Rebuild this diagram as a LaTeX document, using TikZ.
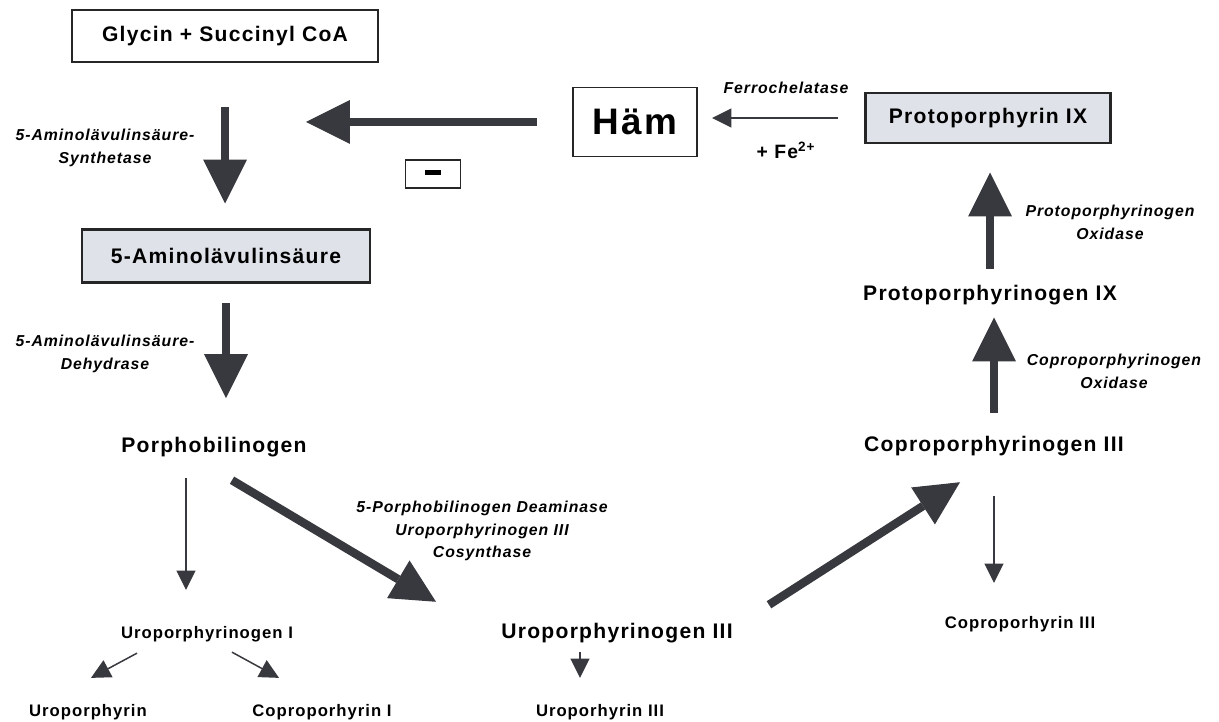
\documentclass[tikz,border=0pt]{standalone}
\usepackage{fontspec}
\setmainfont{Liberation Sans}[LetterSpace=6]
\usepackage{xcolor}
\usetikzlibrary{arrows.meta, positioning}

\definecolor{arrowgray}{RGB}{55,57,62}
\definecolor{boxgray}{RGB}{223,226,232}

\begin{document}
\begin{tikzpicture}[x=0.02cm, y=-0.02cm,
	compound/.style={inner sep=0pt, font=\bfseries\fontsize{12}{14}\selectfont},
	smallcompound/.style={inner sep=0pt, font=\bfseries\fontsize{9.5}{11}\selectfont},
	enzyme/.style={inner sep=0pt, align=center, font=\bfseries\itshape\fontsize{9}{13}\selectfont},
	framebox/.style={compound, draw=black!85, line width=1.1pt, fill=white},
	grayframe/.style={framebox, fill=boxgray, line width=1.6pt},
	bigarrow/.style={draw=arrowgray, line width=4.8pt, -{Triangle[length=25pt, width=25pt, line width=0pt]}},
	thinarrow/.style={draw=arrowgray, line width=0.85pt, -{Triangle[length=11pt, width=11pt, line width=0pt]}}]
	\useasboundingbox (0,0) rectangle (1219,722);
	% compounds, left column
	\node[framebox, minimum width=6.12cm, minimum height=1.04cm] (glycin) at (225,36) {Glycin + Succinyl CoA};
	\node[grayframe, minimum width=5.76cm, minimum height=1.06cm] (ala) at (226,256) {5-Aminolävulinsäure};
	\node[compound] (pbg) at (214,447) {Porphobilinogen};
	\node[smallcompound] (uro1) at (207,634) {Uroporphyrinogen I};
	\node[smallcompound] (uroP) at (88,712) {Uroporphyrin};
	\node[smallcompound] (copro1) at (322,712) {Coproporhyrin I};
	% compounds, middle and right
	\node[compound] (uro3) at (617,633) {Uroporphyrinogen III};
	\node[smallcompound] (uro3p) at (600,712) {Uroporhyrin III};
	\node[compound] (coprogen) at (994,446) {Coproporphyrinogen III};
	\node[smallcompound] (copro3) at (1020,624) {Coproporhyrin III};
	\node[compound] (protogen) at (990,295) {Protoporphyrinogen IX};
	\node[grayframe, minimum width=4.9cm, minimum height=1.0cm] (proto) at (988,118) {Protoporphyrin IX};
	\node[framebox, minimum width=2.48cm, minimum height=1.38cm, font=\bfseries\fontsize{21}{24}\selectfont] (haem) at (635,122) {Häm};
	\node[draw=black!85, line width=1.1pt, minimum width=1.1cm, minimum height=0.56cm, inner sep=0pt] (minus) at (433,174) {\rule[0.25ex]{0.32cm}{0.1cm}};
	\coordinate (block) at (306,122);
	% enzymes
	\node[enzyme] (alas) at (105,148) {5-Aminolävulinsäure-\\Synthetase};
	\node[enzyme] (alad) at (105,354) {5-Aminolävulinsäure-\\Dehydrase};
	\node[enzyme] (pbgd) at (482,531) {5-Porphobilinogen Deaminase\\Uroporphyrinogen III\\Cosynthase};
	\node[enzyme] (cpox) at (1114,371) {Coproporphyrinogen\\Oxidase};
	\node[enzyme] (ppox) at (1110,222) {Protoporphyrinogen\\Oxidase};
	\node[enzyme] (ferro) at (786,88) {Ferrochelatase};
	\node[inner sep=0pt, font=\bfseries\fontsize{11}{13}\selectfont] (fe) at (786,150) {+ Fe\textsuperscript{2+}};
	% main pathway
	\draw[bigarrow, shorten <=25pt, shorten >=14pt] (glycin.south) -- (glycin.south |- ala.north);
	\draw[bigarrow, shorten <=11pt, shorten >=22pt] (ala.south) -- (ala.south |- pbg.north);
	\draw[bigarrow] ([shift={(18,23)}]pbg.south) -- ([shift={(-65,-21)}]uro3.north west);
	\draw[bigarrow] ([shift={(36,-18)}]uro3.north east) -- ([shift={(-34,26)}]coprogen.south);
	\draw[bigarrow, shorten <=13pt, shorten >=7pt] (coprogen.north) -- (coprogen.north |- protogen.south);
	\draw[bigarrow, shorten <=9pt, shorten >=16pt] (protogen.north) -- (protogen.north |- proto.south);
	\draw[thinarrow, shorten <=15pt, shorten >=8pt] (proto.west) -- (proto.west -| haem.east);
	% feedback on the first step
	\draw[bigarrow, shorten <=20pt] (haem.west) -- (block);
	% side products
	\draw[thinarrow] ([shift={(-28,21)}]pbg.south) -- ([shift={(-21,-36)}]uro1.north);
	\draw[thinarrow] ([shift={(-70,11)}]uro1.south) -- ([shift={(3,-26)}]uroP.north);
	\draw[thinarrow] ([shift={(25,10)}]uro1.south) -- ([shift={(-43,-26)}]copro1.north);
	\draw[thinarrow] ([shift={(-37,9)}]uro3.south) -- ([shift={(-20,-26)}]uro3p.north);
	\draw[thinarrow] ([shift={(0,40)}]coprogen.south) -- ([shift={(-26,-33)}]copro3.north);
\end{tikzpicture}
\end{document}
